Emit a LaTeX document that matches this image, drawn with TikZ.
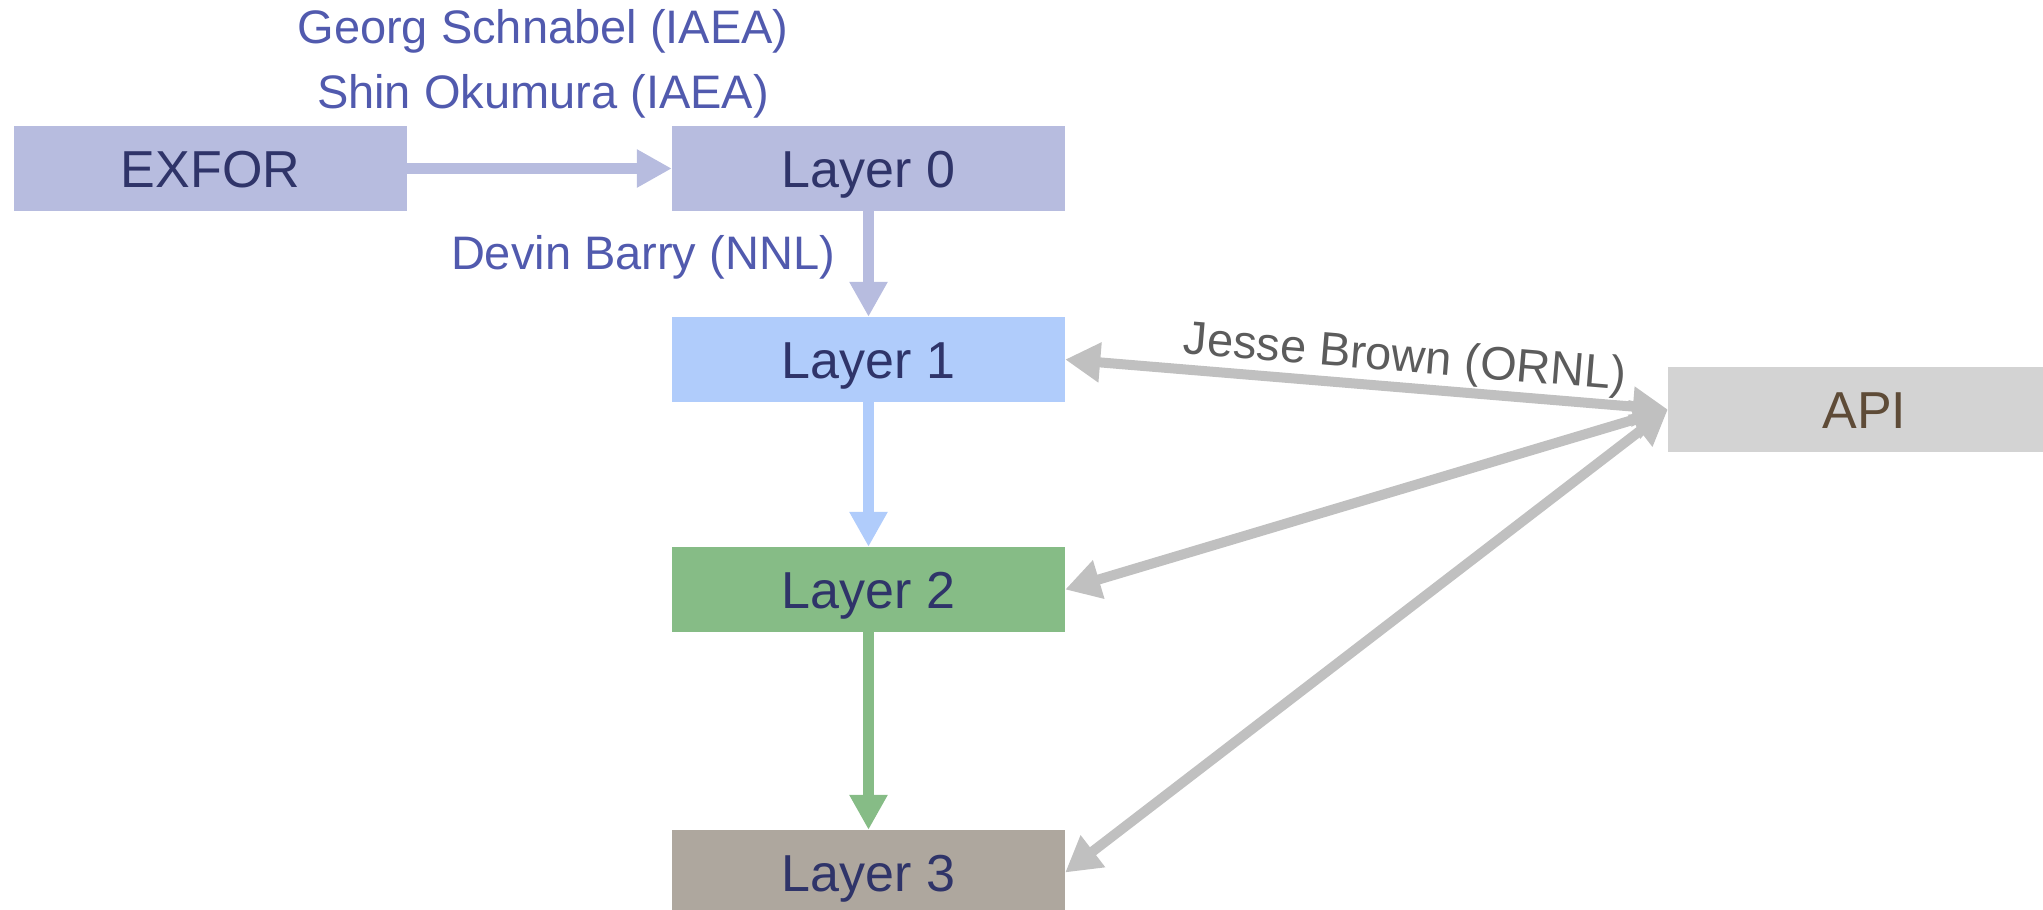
\documentclass[tikz,border=0pt]{standalone}
\usepackage{fontspec}
\setmainfont{Liberation Sans}
\usetikzlibrary{arrows.meta}
\definecolor{lav}{HTML}{B7BCDF}
\definecolor{lblue}{HTML}{B0CCFB}
\definecolor{lgreen}{HTML}{86BC86}
\definecolor{taupe}{HTML}{AEA79E}
\definecolor{apigray}{HTML}{D3D3D3}
\definecolor{boxtext}{HTML}{2F3469}
\definecolor{apitext}{HTML}{5E4B37}
\definecolor{authtext}{HTML}{515AAE}
\definecolor{ornltext}{HTML}{5C5C5C}
\definecolor{linkgray}{HTML}{C0C0C0}
\tikzset{
  layerbox/.style={draw=none, minimum width=393pt, minimum height=85pt, inner sep=0pt,
    text height=37pt, text depth=0pt,
    text=boxtext, font=\fontsize{52}{60}\selectfont},
  author/.style={text=authtext, font=\fontsize{47}{54}\selectfont, inner sep=0pt, anchor=base},
  flow/.style={line width=11pt, -{Triangle[length=35pt,width=36pt]}},
  apilink/.style={line width=10pt, draw=linkgray,
    {Triangle[length=35pt,width=38pt]}-{Triangle[length=35pt,width=38pt]}}
}
\begin{document}
\begin{tikzpicture}[x=1pt,y=-1pt]
\useasboundingbox (0,0) rectangle (2043,910);
\clip (0,0) rectangle (2043,910);

% boxes
\node[layerbox, fill=lav] (exfor) at (210.5,168.5) {EXFOR};
\node[layerbox, fill=lav] (l0) at (868.5,168.5) {Layer 0};
\node[layerbox, fill=lblue] (l1) at (868.5,359.5) {Layer 1};
\node[layerbox, fill=lgreen] (l2) at (868.5,589.5) {Layer 2};
\node[layerbox, fill=taupe] (l3) at (868.5,872.5) {Layer 3};
\node[layerbox, fill=apigray, text=apitext] (api) at (1864.5,409.5) {API};

% processing chain
\draw[flow, draw=lav, fill=lav] (exfor) -- (l0);
\draw[flow, draw=lav, fill=lav] (l0) -- (l1);
\draw[flow, draw=lblue, fill=lblue] (l1) -- (l2);
\draw[flow, draw=lgreen, fill=lgreen] (l2) -- (l3);

% API access
\draw[apilink, fill=linkgray] (l1.east) -- (api.west)
  node[sloped, pos=0.56, above=1pt, inner sep=0pt, text=ornltext,
       font=\fontsize{47}{54}\selectfont] (ornl) {Jesse Brown (ORNL)};
\draw[apilink, fill=linkgray] (l2.east) -- (api.west);
\draw[apilink, fill=linkgray] (l3.east) -- (api.west);

% contributors
\node[author] (georg) at (543,43) {Georg Schnabel (IAEA)};
\node[author] (shin) at (543,108) {Shin Okumura (IAEA)};
\node[author] (devin) at (643,269) {Devin Barry (NNL)};
\end{tikzpicture}
\end{document}
